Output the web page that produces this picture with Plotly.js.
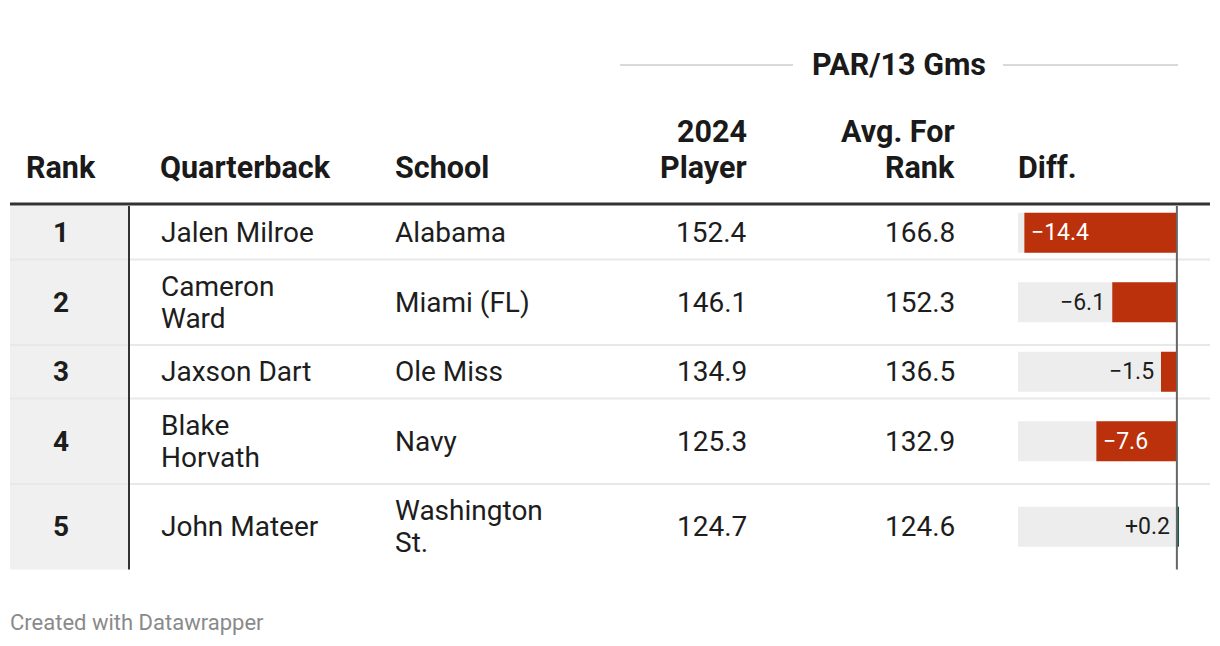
<!DOCTYPE html>
<html>
<head>
<meta charset="utf-8">
<script src="https://cdn.plot.ly/plotly-3.0.1.min.js"></script>
<style>html,body{margin:0;padding:0;background:#fff;}#chart{width:1220px;height:646px;}</style>
</head>
<body>
<div id="chart"></div>
<script>
// ---- data ----
const ranks = [1, 2, 3, 4, 5];
const quarterbacks = ['Jalen Milroe', 'Cameron<br>Ward', 'Jaxson Dart', 'Blake<br>Horvath', 'John Mateer'];
const schools = ['Alabama', 'Miami (FL)', 'Ole Miss', 'Navy', 'Washington<br>St.'];
const player2024 = [152.4, 146.1, 134.9, 125.3, 124.7];
const avgForRank = [166.8, 152.3, 136.5, 132.9, 124.6];
const diffs = [-14.4, -6.1, -1.5, -7.6, 0.2];
const headers = ['Rank', 'Quarterback', 'School', '2024<br>Player', 'Avg. For<br>Rank', 'Diff.'];
const groupHeader = 'PAR/13 Gms';
const footer = 'Created with Datawrapper';

// ---- layout helpers ----
const W = 1220, H = 646;
const px = v => v / W;
const FONT = 'Roboto, "Open Sans", sans-serif';
const TXT = '#1d1d1d';
const RED = '#bb310b', GREEN = '#0f5c45', BG = '#ededed';
const scaleMin = -15;
const BODY_LH = 32, HEAD_LH = 36;

const bodyTop = 206;
const lines = quarterbacks.map((q, i) => Math.max(q.split('<br>').length, schools[i].split('<br>').length));
const heights = lines.map(n => 21.5 + BODY_LH * n);
const tops = [];
let acc = bodyTop;
heights.forEach(h => { tops.push(acc); acc += h; });
const bodyBottom = acc;
const centers = tops.map((t, i) => t + heights[i] / 2);

const fmt = v => (v < 0 ? '\u2212' : '+') + Math.abs(v).toFixed(1);

const annotations = [];
const shapes = [];
function txt(text, x, y, opts, lh) {
  const parts = String(text).split('<br>');
  const o = opts || {};
  const bold = o.bold;
  parts.forEach((p, k) => {
    const yy = y + (k - (parts.length - 1) / 2) * (lh || BODY_LH);
    const a = Object.assign({
      text: bold ? '<b>' + p + '</b>' : p, x: px(x), y: yy, xref: 'paper', yref: 'y', showarrow: false,
      xanchor: 'left', yanchor: 'middle', align: 'left', borderpad: 0,
      font: {family: FONT, size: 28, color: TXT}
    }, o);
    delete a.bold;
    annotations.push(a);
  });
}

// rank column background
shapes.push({type: 'rect', xref: 'paper', yref: 'y', x0: px(10), x1: px(128), y0: bodyTop, y1: bodyBottom,
  fillcolor: '#f0f0f0', line: {width: 0}, layer: 'below'});
// row separators
tops.slice(1).forEach(t => shapes.push({type: 'line', xref: 'paper', yref: 'y', x0: px(10), x1: px(1210), y0: t, y1: t,
  line: {color: '#e8e8e8', width: 2}, layer: 'below'}));
// header rule
shapes.push({type: 'line', xref: 'paper', yref: 'y', x0: px(10), x1: px(1210), y0: 204, y1: 204, line: {color: '#333', width: 3}});
// vertical rule after rank
shapes.push({type: 'line', xref: 'paper', yref: 'y', x0: px(129), x1: px(129), y0: 206, y1: bodyBottom, line: {color: '#333', width: 2}});
// group header rules
shapes.push({type: 'line', xref: 'paper', yref: 'y', x0: px(620), x1: px(793), y0: 65, y1: 65, line: {color: '#cccccc', width: 1.5}});
shapes.push({type: 'line', xref: 'paper', yref: 'y', x0: px(1003), x1: px(1178), y0: 65, y1: 65, line: {color: '#cccccc', width: 1.5}});
// zero line of diff bars
shapes.push({type: 'line', xref: 'x', yref: 'y', x0: 0, x1: 0, y0: bodyTop, y1: bodyBottom, line: {color: '#666', width: 2}, layer: 'above'});

// headers
const HB = {family: FONT, size: 30.5, color: '#1a1a1a'};
txt(groupHeader, 899, 64, {xanchor: 'center', font: HB, bold: true});
txt(headers[0], 61, 167, {xanchor: 'center', font: HB, bold: true});
txt(headers[1], 159, 167, {font: HB, bold: true});
txt(headers[2], 394, 167, {font: HB, bold: true});
txt(headers[3], 748, 149, {xanchor: 'right', align: 'right', font: HB, bold: true}, HEAD_LH);
txt(headers[4], 956, 149, {xanchor: 'right', align: 'right', font: HB, bold: true}, HEAD_LH);
txt(headers[5], 1017, 167, {font: HB, bold: true});

// body
ranks.forEach((r, i) => {
  const c = centers[i];
  txt(String(r), 61, c, {xanchor: 'center', bold: true});
  txt(quarterbacks[i], 160, c);
  txt(schools[i], 394, c);
  txt(player2024[i].toFixed(1), 748, c, {xanchor: 'right', align: 'right'});
  txt(avgForRank[i].toFixed(1), 956, c, {xanchor: 'right', align: 'right'});
  // diff labels
  const v = diffs[i];
  const lf = {family: FONT, size: 23, color: TXT};
  if (v < 0 && Math.abs(v) > 7) {
    annotations.push({text: fmt(v), x: v, y: c, xref: 'x', yref: 'y', showarrow: false, xanchor: 'left', yanchor: 'middle', xshift: 6, borderpad: 0,
      font: Object.assign({}, lf, {color: '#ffffff'})});
  } else if (v < 0) {
    annotations.push({text: fmt(v), x: v, y: c, xref: 'x', yref: 'y', showarrow: false, xanchor: 'right', yanchor: 'middle', xshift: -6, borderpad: 0, font: lf});
  } else {
    annotations.push({text: fmt(v), x: 0, y: c, xref: 'x', yref: 'y', showarrow: false, xanchor: 'right', yanchor: 'middle', xshift: -6, borderpad: 0, font: lf});
  }
});

// footer
txt(footer, 9, 622, {font: {family: FONT, size: 22, color: '#8a8a8a'}});

const traces = [
  {type: 'bar', orientation: 'h', y: centers, x: diffs.map(() => scaleMin), width: 40,
   marker: {color: BG}, hoverinfo: 'skip', showlegend: false},
  {type: 'bar', orientation: 'h', y: centers, x: diffs, width: 40,
   marker: {color: diffs.map(v => v < 0 ? RED : GREEN)}, hoverinfo: 'skip', showlegend: false}
];

const layout = {
  width: W, height: H, margin: {l: 0, r: 0, t: 0, b: 0},
  paper_bgcolor: '#fff', plot_bgcolor: 'rgba(0,0,0,0)',
  barmode: 'overlay', showlegend: false,
  xaxis: {domain: [px(1018), px(1179)], range: [scaleMin, 0.2], visible: false, fixedrange: true},
  yaxis: {domain: [0, 1], range: [H, 0], visible: false, fixedrange: true},
  annotations: annotations, shapes: shapes,
  font: {family: FONT}
};

Plotly.newPlot('chart', traces, layout, {displayModeBar: false, staticPlot: true});
</script>
</body>
</html>
